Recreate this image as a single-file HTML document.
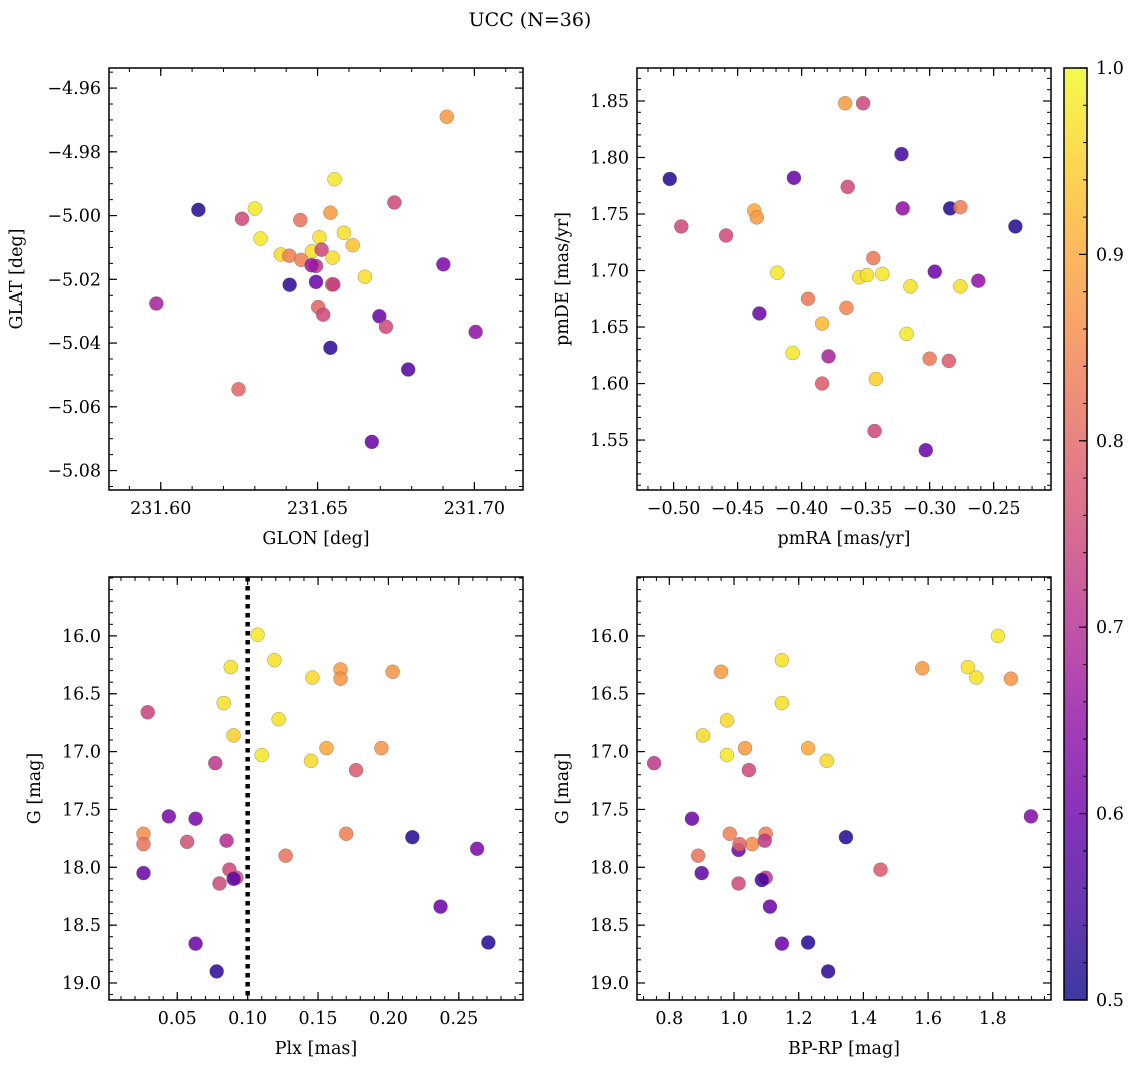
<!DOCTYPE html>
<html><head><meta charset="utf-8"><style>
html,body{margin:0;padding:0;background:#fff;}
svg{display:block;font-family:"DejaVu Serif","Liberation Serif",serif;}
</style></head><body>
<svg id="fig" width="1136" height="1067" viewBox="0 0 1136 1067" xmlns="http://www.w3.org/2000/svg">
<defs>
<linearGradient id="plasma" x1="0" y1="1" x2="0" y2="0">
<stop offset="0" stop-color="#0d0887"/><stop offset="0.1" stop-color="#41049d"/><stop offset="0.2" stop-color="#6a00a8"/><stop offset="0.3" stop-color="#8f0da4"/><stop offset="0.4" stop-color="#b12a90"/><stop offset="0.5" stop-color="#cc4778"/><stop offset="0.6" stop-color="#e16462"/><stop offset="0.7" stop-color="#f2844b"/><stop offset="0.8" stop-color="#fca636"/><stop offset="0.9" stop-color="#fcce25"/><stop offset="1" stop-color="#f0f921"/>
</linearGradient>
</defs>
<text x="530" y="26" text-anchor="middle" font-size="19">UCC (N=36)</text>
<g id="layer"></g>
</svg>
<script>
// ---- data ----
const tlGlon=[231.6912,231.6554,231.6745,231.6120,231.6300,231.6259,231.6445,231.6541,231.6318,231.6584,231.6506,231.6612,231.6383,231.6410,231.6448,231.6482,231.6513,231.6548,231.6495,231.6481,231.6651,231.6411,231.6495,231.6546,231.6550,231.6901,231.5986,231.6502,231.6518,231.6697,231.6718,231.7004,231.6541,231.6789,231.6248,231.6673];
const tlGlat=[-4.9690,-4.9886,-4.9959,-4.9982,-4.9978,-5.0010,-5.0014,-4.9991,-5.0072,-5.0054,-5.0068,-5.0093,-5.0122,-5.0126,-5.0139,-5.0112,-5.0107,-5.0132,-5.0158,-5.0156,-5.0192,-5.0217,-5.0208,-5.0216,-5.0216,-5.0153,-5.0276,-5.0287,-5.0311,-5.0316,-5.0349,-5.0365,-5.0415,-5.0483,-5.0545,-5.0710];
const tlProb=[0.88,0.98,0.75,0.52,0.98,0.75,0.82,0.88,0.98,0.97,0.97,0.93,0.96,0.84,0.84,0.97,0.75,0.97,0.72,0.66,0.97,0.53,0.6,0.87,0.72,0.62,0.68,0.8,0.75,0.6,0.75,0.65,0.53,0.57,0.8,0.6];

const trPmra=[-0.366,-0.352,-0.322,-0.503,-0.406,-0.364,-0.321,-0.284,-0.276,-0.233,-0.494,-0.459,-0.437,-0.435,-0.344,-0.419,-0.355,-0.349,-0.337,-0.296,-0.262,-0.315,-0.276,-0.395,-0.365,-0.433,-0.384,-0.318,-0.407,-0.379,-0.300,-0.285,-0.342,-0.384,-0.343,-0.303];
const trPmde=[1.848,1.848,1.803,1.781,1.782,1.774,1.755,1.755,1.756,1.739,1.739,1.731,1.753,1.747,1.711,1.698,1.694,1.696,1.697,1.699,1.691,1.686,1.686,1.675,1.667,1.662,1.653,1.644,1.627,1.624,1.622,1.620,1.604,1.600,1.558,1.541];
const trProb=[0.88,0.75,0.55,0.52,0.6,0.75,0.65,0.52,0.84,0.52,0.75,0.75,0.9,0.88,0.83,0.98,0.97,0.97,0.98,0.6,0.65,0.97,0.97,0.83,0.85,0.6,0.92,0.98,0.98,0.68,0.83,0.78,0.95,0.78,0.75,0.6];

const blPlx=[0.029,0.107,0.119,0.088,0.166,0.203,0.146,0.166,0.083,0.090,0.122,0.156,0.195,0.110,0.145,0.077,0.177,0.044,0.063,0.026,0.170,0.217,0.026,0.057,0.085,0.127,0.087,0.026,0.092,0.090,0.080,0.237,0.263,0.271,0.063,0.078];
const blG=[16.66,15.99,16.21,16.27,16.29,16.31,16.36,16.37,16.58,16.86,16.72,16.97,16.97,17.03,17.08,17.10,17.16,17.56,17.58,17.71,17.71,17.74,17.80,17.78,17.77,17.90,18.02,18.05,18.09,18.10,18.14,18.34,17.84,18.65,18.66,18.90];
const blProb=[0.74,0.98,0.97,0.97,0.88,0.87,0.96,0.87,0.97,0.95,0.97,0.9,0.87,0.98,0.96,0.72,0.78,0.62,0.62,0.86,0.84,0.52,0.82,0.76,0.7,0.82,0.75,0.6,0.76,0.58,0.75,0.6,0.62,0.52,0.6,0.53];

const brBprp=[1.816,1.148,1.582,1.723,1.749,1.856,0.960,1.148,0.978,0.904,1.034,1.229,1.287,0.978,1.046,0.753,0.870,1.918,0.987,1.098,1.346,1.056,1.095,1.014,0.889,1.017,1.453,0.900,1.014,1.098,1.086,1.111,1.148,1.229,1.291];
const brG=[16.00,16.21,16.28,16.27,16.36,16.37,16.31,16.58,16.73,16.86,16.97,16.97,17.08,17.03,17.16,17.10,17.58,17.56,17.71,17.71,17.74,17.80,17.77,17.85,17.90,17.80,18.02,18.05,18.14,18.09,18.11,18.34,18.66,18.65,18.90];
const brProb=[0.98,0.97,0.88,0.97,0.97,0.87,0.88,0.97,0.96,0.96,0.88,0.9,0.96,0.98,0.75,0.72,0.6,0.63,0.84,0.84,0.52,0.86,0.72,0.6,0.82,0.8,0.78,0.58,0.75,0.72,0.55,0.6,0.6,0.52,0.53];

const tlXTicks=[231.60,231.65,231.70];
const tlXTickLabels=["231.60","231.65","231.70"];
const tlYTicks=[-4.96,-4.98,-5.00,-5.02,-5.04,-5.06,-5.08];
const tlYTickLabels=["\u22124.96","\u22124.98","\u22125.00","\u22125.02","\u22125.04","\u22125.06","\u22125.08"];
const trXTicks=[-0.50,-0.45,-0.40,-0.35,-0.30,-0.25];
const trXTickLabels=["\u22120.50","\u22120.45","\u22120.40","\u22120.35","\u22120.30","\u22120.25"];
const trYTicks=[1.55,1.60,1.65,1.70,1.75,1.80,1.85];
const trYTickLabels=["1.55","1.60","1.65","1.70","1.75","1.80","1.85"];
const blXTicks=[0.05,0.10,0.15,0.20,0.25];
const blXTickLabels=["0.05","0.10","0.15","0.20","0.25"];
const gTicks=[16.0,16.5,17.0,17.5,18.0,18.5,19.0];
const gTickLabels=["16.0","16.5","17.0","17.5","18.0","18.5","19.0"];
const brXTicks=[0.8,1.0,1.2,1.4,1.6,1.8];
const brXTickLabels=["0.8","1.0","1.2","1.4","1.6","1.8"];
const cbTicks=[0.5,0.6,0.7,0.8,0.9,1.0];
const cbTickLabels=["0.5","0.6","0.7","0.8","0.9","1.0"];

// ---- rendering ----
const NS="http://www.w3.org/2000/svg";
const layer=document.getElementById('layer');
function mk(tag,attrs,parent){const e=document.createElementNS(NS,tag);for(const k in attrs)e.setAttribute(k,attrs[k]);(parent||layer).appendChild(e);return e;}
const stops=[[0,13,8,135],[0.1,65,4,157],[0.2,106,0,168],[0.3,143,13,164],[0.4,177,42,144],[0.5,204,71,120],[0.6,225,100,98],[0.7,242,132,75],[0.8,252,166,54],[0.9,252,206,37],[1,240,249,33]];
function cmap(v){let t=(v-0.5)/0.5;t=Math.max(0,Math.min(1,t));for(let i=1;i<stops.length;i++){if(t<=stops[i][0]){const a=stops[i-1],b=stops[i];const f=(t-a[0])/(b[0]-a[0]);return `rgb(${Math.round(a[1]+f*(b[1]-a[1]))},${Math.round(a[2]+f*(b[2]-a[2]))},${Math.round(a[3]+f*(b[3]-a[3]))})`;}}return 'rgb(240,249,33)';}

function panel(o){
  const g=mk('g',{});
  
  
  const sx=v=>o.x0+(v-o.xmin)/(o.xmax-o.xmin)*(o.x1-o.x0);
  const sy=o.invert?(v=>o.y0+(v-o.ymin)/(o.ymax-o.ymin)*(o.y1-o.y0)):(v=>o.y1-(v-o.ymin)/(o.ymax-o.ymin)*(o.y1-o.y0));
  // minor ticks
  const mt=mk('g',{stroke:'#000','stroke-width':1},g);
  
  
  for(let v=Math.ceil(o.xmin/o.xminor-1e-6)*o.xminor;v<=o.xmax+1e-9;v+=o.xminor){const px=sx(v);mk('line',{x1:px,x2:px,y1:o.y1,y2:o.y1-4},mt);mk('line',{x1:px,x2:px,y1:o.y0,y2:o.y0+4},mt);}
  for(let v=Math.ceil(o.ymin/o.yminor-1e-6)*o.yminor;v<=o.ymax+1e-9;v+=o.yminor){const py=sy(v);mk('line',{x1:o.x0,x2:o.x0+4,y1:py,y2:py},mt);mk('line',{x1:o.x1,x2:o.x1-4,y1:py,y2:py},mt);}
  // major ticks + labels
  o.xt.forEach((v,i)=>{const px=sx(v);
    mk('line',{x1:px,x2:px,y1:o.y1,y2:o.y1-8,stroke:'#000','stroke-width':1.2},g);
    mk('line',{x1:px,x2:px,y1:o.y0,y2:o.y0+8,stroke:'#000','stroke-width':1.2},g);
    const t=mk('text',{x:px,y:o.y1+24,'text-anchor':'middle','font-size':17.5},g);t.textContent=o.xtl[i];
    
    });
  o.yt.forEach((v,i)=>{const py=sy(v);
    mk('line',{x1:o.x0,x2:o.x0+8,y1:py,y2:py,stroke:'#000','stroke-width':1.2},g);
    mk('line',{x1:o.x1,x2:o.x1-8,y1:py,y2:py,stroke:'#000','stroke-width':1.2},g);
    const t=mk('text',{x:o.x0-8,y:py+6,'text-anchor':'end','font-size':17.5},g);t.textContent=o.ytl[i];
    
    });
  if(o.vline!==undefined){const l=mk('line',{x1:sx(o.vline),x2:sx(o.vline),y1:o.y0,y2:o.y1,stroke:'#000','stroke-width':4.5,'stroke-dasharray':'4.5 4.5'},g);
    
    }
  const pts=mk('g',{},g);
  
  
  o.xs.forEach((xv,i)=>{const c=mk('circle',{cx:sx(xv),cy:sy(o.ys[i]),r:7,fill:cmap(o.cs[i]),'fill-opacity':0.85,stroke:'rgba(90,90,90,0.6)','stroke-width':0.5},pts);
    
    });
  const fr=mk('rect',{x:o.x0,y:o.y0,width:o.x1-o.x0,height:o.y1-o.y0,fill:'none',stroke:'#000','stroke-width':1.5},g);
  
  
  const xl=mk('text',{x:(o.x0+o.x1)/2,y:o.y1+54,'text-anchor':'middle','font-size':17.5},g);xl.textContent=o.xlab;
  
  
  const yl=mk('text',{x:0,y:0,'text-anchor':'middle','font-size':17.5,transform:`translate(${o.ylx},${(o.y0+o.y1)/2}) rotate(-90)`},g);yl.textContent=o.ylab;
  
  
}

panel({name:'glon-glat-panel',x0:109,x1:523,y0:68,y1:490,xmin:231.5835,xmax:231.7155,ymin:-5.0861,ymax:-4.9537,invert:false,xminor:0.01,yminor:0.005,xt:tlXTicks,xtl:tlXTickLabels,yt:tlYTicks,ytl:tlYTickLabels,xs:tlGlon,ys:tlGlat,cs:tlProb,xlab:'GLON [deg]',ylab:'GLAT [deg]',ylx:22});
panel({name:'pm-panel',x0:637,x1:1051,y0:68,y1:490,xmin:-0.5286,xmax:-0.2052,ymin:1.5058,ymax:1.8792,invert:false,xminor:0.01,yminor:0.01,xt:trXTicks,xtl:trXTickLabels,yt:trYTicks,ytl:trYTickLabels,xs:trPmra,ys:trPmde,cs:trProb,xlab:'pmRA [mas/yr]',ylab:'pmDE [mas/yr]',ylx:568});
panel({name:'plx-g-panel',x0:109,x1:523,y0:577,y1:1000,xmin:0.0015,xmax:0.2956,ymin:15.491,ymax:19.147,invert:true,xminor:0.01,yminor:0.1,xt:blXTicks,xtl:blXTickLabels,yt:gTicks,ytl:gTickLabels,xs:blPlx,ys:blG,cs:blProb,xlab:'Plx [mas]',ylab:'G [mag]',ylx:40,vline:0.10});
panel({name:'cmd-panel',x0:637,x1:1051,y0:577,y1:1000,xmin:0.700,xmax:1.980,ymin:15.491,ymax:19.147,invert:true,xminor:0.04,yminor:0.1,xt:brXTicks,xtl:brXTickLabels,yt:gTicks,ytl:gTickLabels,xs:brBprp,ys:brG,cs:brProb,xlab:'BP-RP [mag]',ylab:'G [mag]',ylx:568});

// colorbar
const cb=mk('g',{});


const cbX0=1064,cbX1=1087,cbY0=68,cbY1=1000;
const cby=v=>cbY1-(v-0.5)/0.5*(cbY1-cbY0);
const cbr=mk('rect',{x:cbX0,y:cbY0,width:cbX1-cbX0,height:cbY1-cbY0,fill:'url(#plasma)','fill-opacity':0.8},cb);


for(let v=0.5;v<=1.0001;v+=0.02){mk('line',{x1:cbX1,x2:cbX1-4,y1:cby(v),y2:cby(v),stroke:'#000','stroke-width':1},cb);}
cbTicks.forEach((v,i)=>{mk('line',{x1:cbX1,x2:cbX1-8,y1:cby(v),y2:cby(v),stroke:'#000','stroke-width':1.2},cb);
  const t=mk('text',{x:cbX1+9,y:cby(v)+6,'font-size':17.5},cb);t.textContent=cbTickLabels[i];
  
  });
mk('rect',{x:cbX0,y:cbY0,width:cbX1-cbX0,height:cbY1-cbY0,fill:'none',stroke:'#000','stroke-width':1.5},cb);
</script>
</body></html>
